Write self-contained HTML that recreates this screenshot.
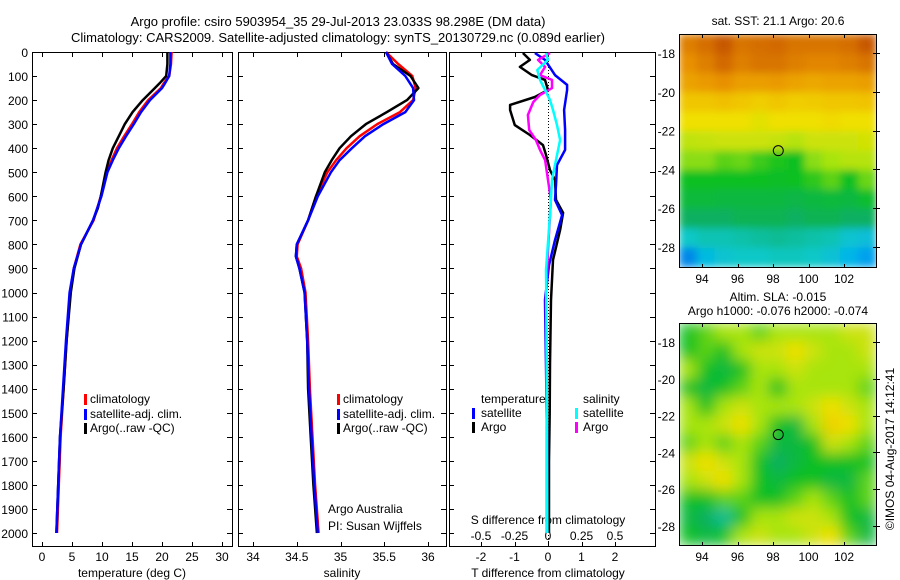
<!DOCTYPE html>
<html><head><meta charset="utf-8"><style>
html,body{margin:0;padding:0;background:#fff;}
svg{display:block;font-family:"Liberation Sans",sans-serif;}
</style></head><body>
<svg id="c" width="900" height="580" viewBox="0 0 900 580">
<defs>
<filter id="blurA" x="0" y="0" width="1" height="1"><feGaussianBlur stdDeviation="4" edgeMode="duplicate"/></filter>
<filter id="blurB" x="0" y="0" width="1" height="1"><feGaussianBlur stdDeviation="7" edgeMode="duplicate"/></filter>
</defs>
</svg>
<script>
// ---- data ----
const depthTicks=[0,100,200,300,400,500,600,700,800,900,1000,1100,1200,1300,1400,1500,1600,1700,1800,1900,2000];
const tempTicks=[0,5,10,15,20,25,30];
const salTicks=[34,34.5,35,35.5,36];
const tdiffTicks=[-2,-1,0,1,2];
const sdiffTicks=[-0.5,-0.25,0,0.25,0.5];
const sdiffLabels=["-0.5","-0.25","0","0.25","0.5"];
const lonTicks=[94,96,98,100,102];
const latTicks=[-18,-20,-22,-24,-26,-28];

const tDepth=[0,50,100,130,150,200,250,300,350,400,450,500,600,650,700,800,900,1000,1200,1400,1600,1800,2000];
const tClim=[21.6,21.5,21.2,20.3,19.8,17.7,16.2,15.0,13.7,12.5,11.6,10.8,9.8,9.2,8.6,6.4,5.3,4.7,4.1,3.6,3.1,2.8,2.5];
const tSat=[21.4,21.4,21.2,20.5,20.0,18.0,16.5,15.3,14.0,12.8,11.8,10.9,9.9,9.2,8.5,6.5,5.3,4.6,4.0,3.5,3.0,2.7,2.4];
const tArgo=[20.9,20.9,20.7,19.6,18.8,16.8,15.1,13.8,12.8,11.8,11.1,10.6,9.8,9.3,8.5,6.5,5.4,4.8,4.1,3.6,3.0,2.7,2.4];

const sDepth=[0,50,100,150,200,250,300,350,400,450,500,600,700,800,850,900,1000,1200,1400,1600,1800,2000];
const sClim=[35.52,35.66,35.82,35.86,35.83,35.68,35.42,35.22,35.07,34.95,34.85,34.72,34.63,34.51,34.5,34.55,34.6,34.63,34.65,34.68,34.71,34.75];
const sSat=[35.52,35.59,35.74,35.83,35.84,35.74,35.49,35.28,35.13,34.99,34.89,34.74,34.63,34.5,34.49,34.53,34.59,34.62,34.64,34.67,34.7,34.74];
const sArgo=[35.52,35.6,35.8,35.89,35.76,35.53,35.29,35.12,34.99,34.9,34.82,34.72,34.63,34.5,34.49,34.53,34.59,34.62,34.63,34.66,34.69,34.73];

const dtArgoDepth=[4,33,62,96,116,158,187,220,241,304,345,387,428,491,532,615,669,740,865,1031,1300,1500,1700,2000];
const dtArgo=[-0.75,-0.54,-0.84,-0.48,-0.09,0,-0.39,-1.13,-1.13,-0.99,-0.54,-0.15,-0.06,0.06,0.21,0.24,0.45,0.36,0.15,0.09,0.06,0.05,0.03,0.03];
const dtSatDepth=[4,33,96,137,158,241,324,407,470,553,615,678,782,886,1031,1300,1600,2000];
const dtSat=[-0.39,-0.09,0.21,0.57,0.57,0.48,0.51,0.51,0.27,0.24,0.21,0.42,0.21,0.03,-0.09,-0.06,-0.03,-0.03];
const dsArgoDepth=[4,33,62,96,116,150,179,208,262,324,366,407,449,532,615,823,1031,1500,2000];
const dsArgo=[0.015,-0.075,-0.022,-0.06,0.03,0.03,-0.06,-0.11,-0.15,-0.14,-0.09,-0.06,-0.022,0,0.022,0,-0.015,-0.01,-0.005];
const dsSatDepth=[4,33,75,116,158,200,241,304,366,449,532,615,740,906,1200,2000];
const dsSat=[-0.015,0,-0.08,-0.06,-0.022,0.015,0.037,0.067,0.09,0.06,0.03,0.022,0.007,-0.015,-0.01,-0.005];

const sstGrid=[
[9.3,9.6,10,9.5,9.6,9.7,9.5,9.5,9.5,9.6,10],
[9,9.3,9.7,9.3,9.5,9.5,9.3,9.2,9.2,9.3,9.5],
[8.6,8.8,9,8.7,8.7,8.8,8.6,8.5,8.6,8.6,8.7],
[7.8,7.8,8,7.8,7.6,7.8,7.6,7.7,7.8,7.8,7.9],
[7,7,7,7,6.8,7,7,7,7.2,7,7],
[6.3,6.4,6.5,6.5,6.5,6.4,6.2,6.5,6.5,6.5,6.6],
[5.8,5.8,5.5,5.6,5.3,5.1,5,5.8,6,6.2,6.2],
[5,5,5,5,5,4.9,5,5.2,5.5,5,5.6],
[4.6,4.6,4.5,4.5,4.5,4.5,4.4,4.5,4.6,4.5,4.8],
[4,4,4,4.2,4.2,4.2,4,4.2,4.2,4,4],
[3,3.2,3.2,3.3,3.4,3.5,3.4,3.3,3.2,2.8,2.6],
[1.5,2.4,2.8,3,3,3.1,3.1,3,2.7,2.2,1.8]];
const slaGrid=[
[5,5.5,6,6,5.5,6,6,6,6,6.5,6.5],
[5,5.5,5,6,6.5,6.5,7,6.5,6,6,6.5],
[6,5,4.5,5,6,6,6.5,6,6,6,6],
[5,4.5,5,5.5,6,5,6,6,6,6,5.5],
[6,5,6,6.5,6,6,6,6.5,7,6.5,6],
[6,6,6.5,7,6,5,4.5,6,7.5,7,6],
[5.5,6,5.5,6,5.5,4.5,4.5,5,6.5,6,5.5],
[6.5,7,6.5,6,5,4,4.5,5,5,5,5],
[6,6.5,7,6,5,4.5,5,5,4.5,4.5,5.5],
[5,5,5.5,5.5,5,5,5.5,6,5.5,5,5.5],
[4.5,4,3.5,5,6,6,6.5,6.5,6,5,4.5],
[5,4.5,5,6,6.5,6,6,6.5,7,5.5,4.5]];
const argoLon=98.298, argoLat=-23.033;

// ---- helpers ----
const S=document.getElementById('c'), NS='http://www.w3.org/2000/svg';
function mk(tag,attrs,parent){const e=document.createElementNS(NS,tag);for(const k in attrs)e.setAttribute(k,attrs[k]);(parent||S).appendChild(e);return e;}
function txt(x,y,s,anchor,size,name){const t=mk('text',{x:x,y:y,'text-anchor':anchor||'middle','font-size':size||12,fill:'#000'});t.textContent=s;


return t;}
const Y0=52,Y1=546,DS=0.2405;
const yD=d=>Y0+d*DS;
function panel(x0,x1,name){const r=mk('rect',{x:x0+0.5,y:Y0+0.5,width:x1-x0,height:Y1-Y0,fill:'none',stroke:'#000','stroke-width':1});


depthTicks.forEach(d=>{const y=Math.round(yD(d))+0.5;mk('line',{x1:x0,x2:x0+5,y1:y,y2:y,stroke:'#000'});mk('line',{x1:x1-5,x2:x1+1,y1:y,y2:y,stroke:'#000'});});}
function xticks(vals,fx){vals.forEach(v=>{const x=Math.round(fx(v))+0.5;mk('line',{x1:x,x2:x,y1:Y0,y2:Y0+5,stroke:'#000'});mk('line',{x1:x,x2:x,y1:Y1-4,y2:Y1,stroke:'#000'});});}
function line(xs,ds,fx,color,name,w){const p=xs.map((v,i)=>(fx(v)).toFixed(1)+','+yD(ds[i]).toFixed(1)).join(' ');
const l=mk('polyline',{points:p,fill:'none',stroke:color,'stroke-width':w||2.5,'stroke-linejoin':'round'});

}
function legMark(x,y,color){mk('rect',{x:x,y:y-9,width:3,height:11,fill:color});}

txt(338,26,'Argo profile: csiro 5903954_35 29-Jul-2013 23.033S 98.298E (DM data)','middle',13,'title-line-1');
txt(338,42,'Climatology: CARS2009. Satellite-adjusted climatology: synTS_20130729.nc (0.089d earlier)','middle',13,'title-line-2');

depthTicks.forEach(d=>txt(28,yD(d)+5,String(d),'end',12,'depth-tick-label'));

const fT=v=>42+6*v;
panel(32,232,'temperature-panel');xticks(tempTicks,fT);
tempTicks.forEach(v=>txt(fT(v),561,String(v),'middle',12,'temp-tick-label'));
txt(132,577,'temperature (deg C)','middle',12,'x-axis-title-temperature');
line(tClim,tDepth,fT,'#f00','temp-climatology-line');
line(tArgo,tDepth,fT,'#000','temp-argo-line');
line(tSat,tDepth,fT,'#00f','temp-satellite-line');
legMark(84,403,'#f00');txt(90,403,'climatology','start',12,'legend-climatology');
legMark(84,418,'#00f');txt(90,418,'satellite-adj. clim.','start',12,'legend-satellite');
legMark(84,432,'#000');txt(90,432,'Argo(..raw -QC)','start',12,'legend-argo');

const fS=v=>253+87.5*(v-34);
panel(238,446,'salinity-panel');xticks(salTicks,fS);
salTicks.forEach(v=>txt(fS(v),561,String(v),'middle',12,'sal-tick-label'));
txt(342,577,'salinity','middle',12,'x-axis-title-salinity');
line(sClim,sDepth,fS,'#f00','sal-climatology-line');
line(sArgo,sDepth,fS,'#000','sal-argo-line');
line(sSat,sDepth,fS,'#00f','sal-satellite-line');
legMark(337,403,'#f00');txt(343,403,'climatology','start',12,'legend-climatology-2');
legMark(337,418,'#00f');txt(343,418,'satellite-adj. clim.','start',12,'legend-satellite-2');
legMark(337,432,'#000');txt(343,432,'Argo(..raw -QC)','start',12,'legend-argo-2');
txt(328,513,'Argo Australia','start',12,'credit-argo-australia');
txt(328,530,'PI: Susan Wijffels','start',12,'credit-pi');

const fdT=v=>548+33.5*v, fdS=v=>548+134*v;
panel(449,655,'difference-panel');xticks(tdiffTicks,fdT);
mk('line',{x1:548.5,x2:548.5,y1:Y0,y2:Y1,stroke:'#000','stroke-width':1,'stroke-dasharray':'1,2'});
tdiffTicks.forEach(v=>txt(fdT(v),561,String(v),'middle',12,'tdiff-tick-label'));
sdiffTicks.forEach((v,i)=>txt(fdS(v),540,sdiffLabels[i],'middle',12,'sdiff-tick-label'));
txt(548,524,'S difference from climatology','middle',12,'s-diff-axis-title');
txt(548,577,'T difference from climatology','middle',12,'t-diff-axis-title');
line(dtArgo,dtArgoDepth,fdT,'#000','tdiff-argo-line');
line(dtSat,dtSatDepth,fdT,'#00f','tdiff-satellite-line');
line(dsArgo,dsArgoDepth,fdS,'#f0f','sdiff-argo-line');
line(dsSat,dsSatDepth,fdS,'#0ff','sdiff-satellite-line');
txt(481,403,'temperature','start',12,'legend-temperature-heading');
legMark(472,417,'#00f');txt(481,417,'satellite','start',12,'legend-t-satellite');
legMark(472,431,'#000');txt(481,431,'Argo','start',12,'legend-t-argo');
txt(583,403,'salinity','start',12,'legend-salinity-heading');
legMark(575,417,'#0ff');txt(583,417,'satellite','start',12,'legend-s-satellite');
legMark(575,431,'#f0f');txt(583,431,'Argo','start',12,'legend-s-argo');

const stops=['#00108a','#0060e0','#00b0f0','#10c8c8','#10b060','#10c020','#a8e410','#f0e000','#f0c000','#e89000','#c85800'];
function hx(c){return [1,3,5].map(i=>parseInt(c.substr(i,2),16));}
function cmap(v){v=Math.max(0,Math.min(10,v));const i=Math.min(9,Math.floor(v)),f=v-i;const a=hx(stops[i]),b=hx(stops[i+1]);
return 'rgb('+a.map((x,k)=>Math.round(x+(b[k]-x)*f)).join(',')+')';}

let clipN=0;
function map(grid,x0,y0,w,h,latY18,latStep,name,filt){
 const cid='clip'+(clipN++);
 const cp=mk('clipPath',{id:cid});mk('rect',{x:x0,y:y0,width:w,height:h},cp);
 const outer=mk('g',{'clip-path':'url(#'+cid+')'});
 const g=mk('g',{filter:'url(#'+filt+')'},outer);
 
 
 const rows=grid.length,cols=grid[0].length,cw=w/cols,ch=h/rows;
 grid.forEach((row,r)=>row.forEach((v,c)=>{const cell=mk('rect',{x:(x0+c*cw).toFixed(2),y:(y0+r*ch).toFixed(2),width:(cw+0.6).toFixed(2),height:(ch+0.6).toFixed(2),fill:cmap(v)},g);
 
 }));
 mk('rect',{x:x0+0.5,y:y0+0.5,width:w,height:h,fill:'none',stroke:'#000'});
 const fx=lon=>702+(lon-94)*17.75, fy=lat=>latY18+(-18-lat)*latStep;
 lonTicks.forEach(l=>{const x=Math.round(fx(l))+0.5;mk('line',{x1:x,x2:x,y1:y0,y2:y0+4,stroke:'#000'});mk('line',{x1:x,x2:x,y1:y0+h-3,y2:y0+h+1,stroke:'#000'});
  txt(fx(l),y0+h+16,String(l),'middle',12,'lon-tick-label');});
 latTicks.forEach(l=>{const y=Math.round(fy(l))+0.5;mk('line',{x1:x0+w-3,x2:x0+w+1,y1:y,y2:y,stroke:'#000'});mk('line',{x1:x0+w,x2:x0+w+4,y1:y,y2:y,stroke:'#000'});
  txt(x0-4,fy(l)+5,String(l),'end',12,'lat-tick-label');});
 const m=mk('circle',{cx:fx(argoLon),cy:fy(argoLat),r:5,fill:'none',stroke:'#000','stroke-width':1});
 
 
}
txt(778,25,'sat. SST: 21.1  Argo: 20.6','middle',12,'sst-map-title');
map(sstGrid,679,34,197,233,53,19.4,'sst-map','blurA');
txt(778,301,'Altim. SLA: -0.015','middle',12,'sla-map-title');
txt(778,315,'Argo h1000: -0.076 h2000: -0.074','middle',12,'sla-map-subtitle');
map(slaGrid,679,323,197,222,342,18.4,'sla-map','blurB');
const st=txt(0,0,'©IMOS 04-Aug-2017 14:12:41','middle',12,'imos-timestamp');
st.setAttribute('transform','translate(894,449) rotate(-90)');
</script>
</body></html>
